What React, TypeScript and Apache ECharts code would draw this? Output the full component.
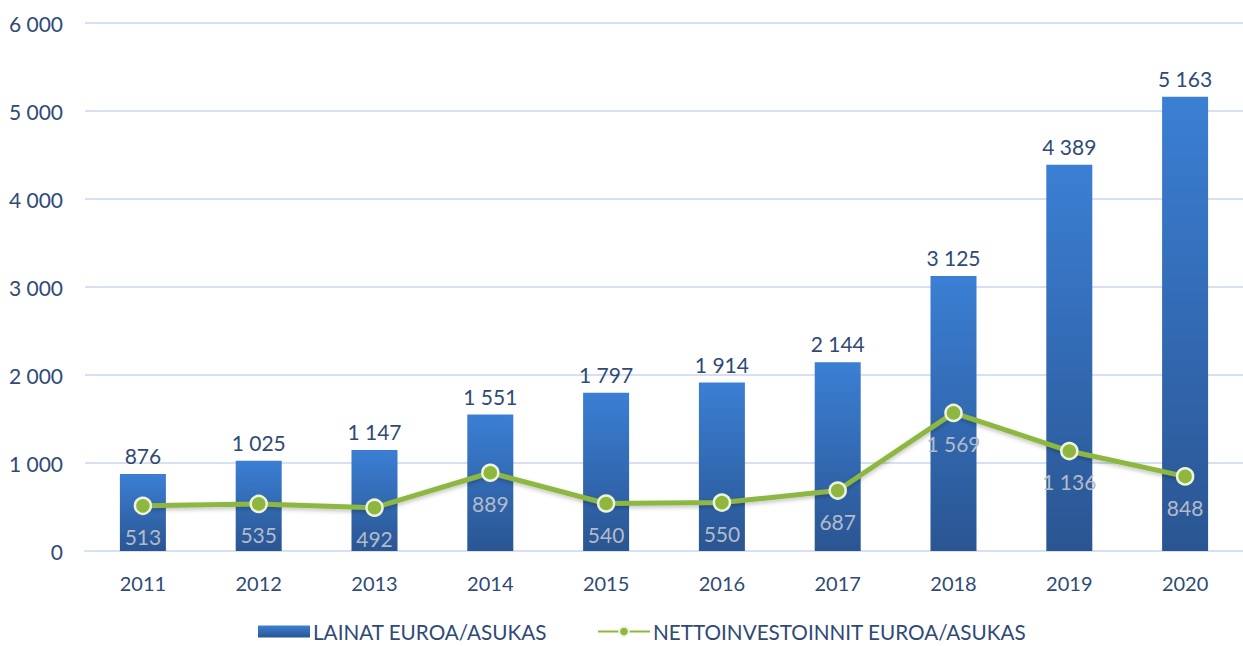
import React, { useEffect, useRef } from "react";
import * as echarts from "echarts";

const years = ["2011", "2012", "2013", "2014", "2015", "2016", "2017", "2018", "2019", "2020"];
const loans = [876, 1025, 1147, 1551, 1797, 1914, 2144, 3125, 4389, 5163];
const netInvestments = [513, 535, 492, 889, 540, 550, 687, 1569, 1136, 848];
const yTicks = [0, 1000, 2000, 3000, 4000, 5000, 6000];

const fmt = (v: number) => String(Math.round(v)).replace(/\B(?=(\d{3})+(?!\d))/g, " ");
const FONT = "Lato, 'Open Sans', sans-serif";

export default function App() {
  const ref = useRef<HTMLDivElement>(null);
  useEffect(() => {
    if (!ref.current) return;
    const chart = echarts.init(ref.current, null, { renderer: "svg" });
    chart.setOption({
      animation: false,
      backgroundColor: "#ffffff",
      textStyle: { fontFamily: FONT },
      grid: { left: 85, right: -5, top: 23, bottom: 95, containLabel: false },
      legend: {
        bottom: -1,
        left: 253,
        itemGap: 50,
        itemWidth: 52,
        itemHeight: 12,
        textStyle: { fontFamily: FONT, fontSize: 20.7, color: "#2f4a75", padding: [0, 0, 0, -2] },
        data: [
          { name: "LAINAT EUROA/ASUKAS", icon: "rect" },
          { name: "NETTOINVESTOINNIT EUROA/ASUKAS" },
        ],
      },
      xAxis: {
        type: "category",
        data: years,
        axisLine: { show: true, lineStyle: { color: "#d6e0f0", width: 2 } },
        axisTick: { show: false },
        axisLabel: { color: "#2f4a75", fontSize: 20, fontFamily: FONT, margin: 22 },
      },
      yAxis: {
        type: "value",
        min: yTicks[0],
        max: yTicks[yTicks.length - 1],
        interval: 1000,
        axisLine: { show: false },
        axisTick: { show: false },
        splitLine: { lineStyle: { color: "#d6e0f0", width: 2 } },
        axisLabel: {
          color: "#2f4a75",
          fontSize: 21,
          fontFamily: FONT,
          margin: 22,
          formatter: (v: number) => fmt(v),
        },
      },
      series: [
        {
          name: "LAINAT EUROA/ASUKAS",
          type: "bar",
          data: loans,
          barWidth: 46,
          itemStyle: {
            color: new echarts.graphic.LinearGradient(0, 0, 0, 1, [
              { offset: 0, color: "#3b7fd4" },
              { offset: 1, color: "#2a5592" },
            ]),
          },
          label: {
            show: true,
            position: "top",
            distance: 8,
            color: "#2f4a75",
            fontSize: 21,
            fontFamily: FONT,
            formatter: (p: any) => fmt(p.value),
          },
        },
        {
          name: "NETTOINVESTOINNIT EUROA/ASUKAS",
          type: "line",
          data: netInvestments,
          symbol: "circle",
          symbolSize: 16,
          lineStyle: {
            color: "#8db73f",
            width: 5,
            shadowColor: "rgba(0,0,0,0.25)",
            shadowBlur: 4,
            shadowOffsetY: 2,
          },
          itemStyle: {
            color: "#8db73f",
            borderColor: "#eef3dc",
            borderWidth: 2.5,
          },
          label: {
            show: true,
            position: "bottom",
            distance: 11,
            color: "#b3bbc8",
            fontSize: 21,
            fontFamily: FONT,
            formatter: (p: any) => fmt(p.value),
          },
          z: 3,
        },
      ],
    });
    return () => chart.dispose();
  }, []);
  return (
    <div
      ref={ref}
      style={{ position: "fixed", left: 0, top: 0, width: 1243, height: 646, background: "#fff" }}
    />
  );
}
